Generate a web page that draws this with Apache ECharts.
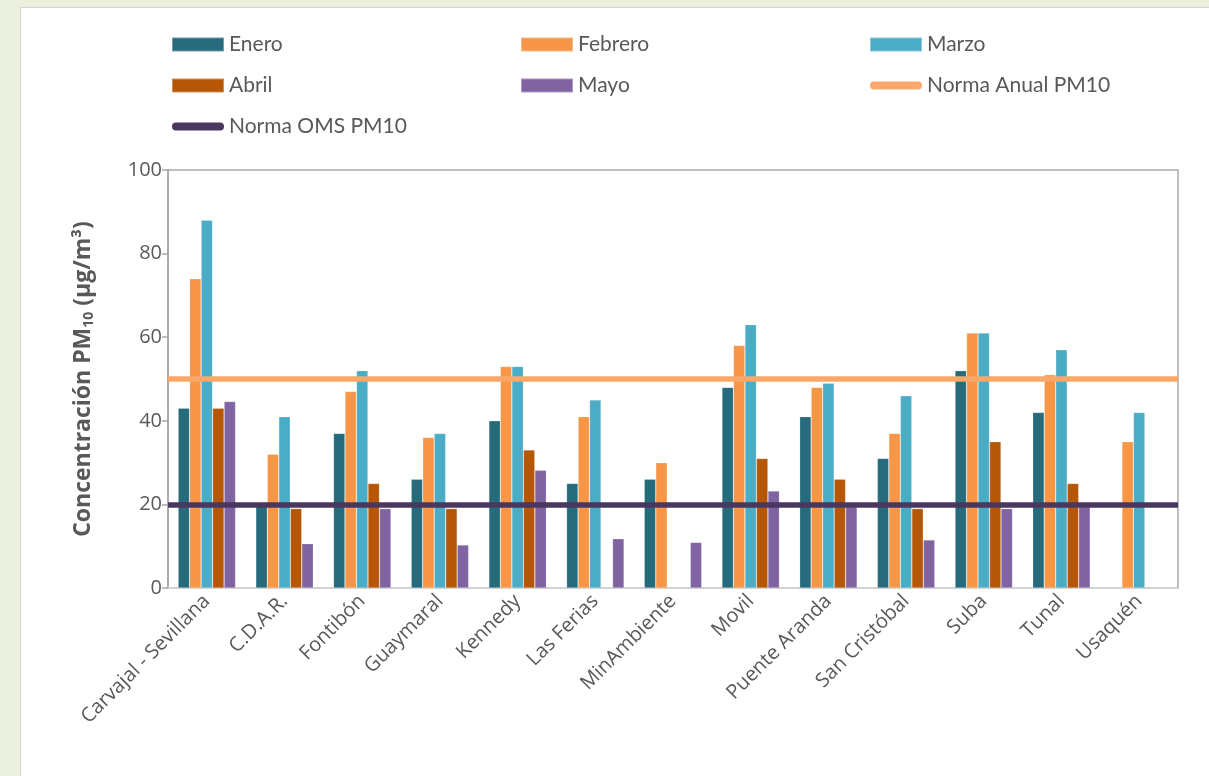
<!DOCTYPE html>
<html>
<head>
<meta charset="utf-8">
<script src="https://cdn.jsdelivr.net/npm/echarts@6/dist/echarts.min.js"></script>
<style>
  html, body { margin:0; padding:0; width:1209px; height:776px; overflow:hidden; background:#EBF1DE; }
  #panel { position:absolute; left:20px; top:7px; width:1189px; height:769px; background:#fff; border-left:1.5px solid #D4D4D4; border-top:1.5px solid #D4D4D4; }
  #chart { position:absolute; left:0; top:0; width:1209px; height:776px; }
</style>
</head>
<body>
<div id="panel"></div>
<div id="chart"></div>
<script>
const categories = ['Carvajal - Sevillana','C.D.A.R.','Fontibón','Guaymaral','Kennedy','Las Ferias','MinAmbiente','Movil','Puente Aranda','San Cristóbal','Suba','Tunal','Usaquén'];
const enero   = [43, 20, 37, 26, 40, 25, 26, 48, 41, 31, 52, 42, null];
const febrero = [74, 32, 47, 36, 53, 41, 30, 58, 48, 37, 61, 51, 35];
const marzo   = [88, 41, 52, 37, 53, 45, null, 63, 49, 46, 61, 57, 42];
const abril   = [43, 19, 25, 19, 33, null, null, 31, 26, 19, 35, 25, null];
const mayo    = [44.6, 10.6, 19, 10.3, 28.2, 11.8, 10.9, 23.2, 19.5, 11.5, 19, 19.5, null];
const normaAnual = 50;
const normaOMS = 20;
const yTicks = [0, 20, 40, 60, 80, 100];

const FONT = 'Open Sans';
const LFONT = 'Lato';
const TXT = '#595959';
const chart = echarts.init(document.getElementById('chart'), null, {renderer:'canvas'});

function bar(name, data, color) {
  return { name, type:'bar', data, barGap:'0%', barCategoryGap:'26%',
    itemStyle:{ color, borderColor:'rgba(255,255,255,0.35)', borderWidth:0.6 }, z:2 };
}
function normLine(name, value, color) {
  return { name, type:'line', data:[], symbol:'none',
    lineStyle:{ color, width:6, cap:'round' }, itemStyle:{ color },
    markLine:{ silent:true, symbol:['none','none'], label:{ show:false },
      lineStyle:{ color, width:5.5, type:'solid' }, emphasis:{ disabled:true },
      data:[{ yAxis:value }] }, z:5 };
}
const lineIcon = 'path://M4,0 H48 A4,4 0 0 1 48,8 H4 A4,4 0 0 1 4,0 Z';
const legendBase = { orient:'vertical', itemWidth:52, itemHeight:14, itemGap:20,
  textStyle:{ fontFamily:LFONT, fontSize:21, color:TXT, lineHeight:20 }, selectedMode:false };

chart.setOption({
  animation:false,
  backgroundColor:'transparent',
  textStyle:{ fontFamily:FONT },
  legend:[
    Object.assign({}, legendBase, { left:166, top:29, data:[{name:'Enero',icon:'rect'},{name:'Abril',icon:'rect'},{name:'Norma OMS PM10',icon:lineIcon}] }),
    Object.assign({}, legendBase, { left:515, top:29, data:[{name:'Febrero',icon:'rect'},{name:'Mayo',icon:'rect'}] }),
    Object.assign({}, legendBase, { left:864, top:29, data:[{name:'Marzo',icon:'rect'},{name:'Norma Anual PM10',icon:lineIcon}] })
  ],
  grid:{ left:168, right:31, top:170, bottom:188, show:true, borderColor:'#ABABAB', borderWidth:1.5, containLabel:false },
  xAxis:{ type:'category', data:categories,
    axisLine:{ lineStyle:{ color:'#D9D9D9', width:1.5 } }, axisTick:{ show:false },
    axisLabel:{ rotate:45, fontFamily:FONT, fontSize:20, color:TXT, margin:10, interval:0 } },
  yAxis:{ type:'value', min:yTicks[0], max:yTicks[yTicks.length-1], interval:20,
    name:'Concentración PM{s|10} (µg/m³)', nameLocation:'middle', nameGap:72,
    nameTextStyle:{ fontFamily:FONT, fontSize:23, fontWeight:'bold', color:TXT,
      rich:{ s:{ fontFamily:FONT, fontSize:14, fontWeight:'bold', color:TXT, verticalAlign:'bottom', padding:[11,0,0,0] } } },
    axisLine:{ show:true, lineStyle:{ color:'#A6A6A6', width:1.5 } },
    axisTick:{ show:true, length:6, lineStyle:{ color:'#A6A6A6', width:1.5 } },
    splitLine:{ show:false },
    axisLabel:{ fontFamily:FONT, fontSize:20, color:TXT, margin:6,
      formatter: v => yTicks.includes(v) ? String(v) : '' } },
  series:[
    bar('Enero', enero, '#256B7C'),
    bar('Febrero', febrero, '#F79646'),
    bar('Marzo', marzo, '#4BACC6'),
    bar('Abril', abril, '#B65708'),
    bar('Mayo', mayo, '#8064A2'),
    normLine('Norma Anual PM10', normaAnual, '#F9A86A'),
    normLine('Norma OMS PM10', normaOMS, '#4A3760')
  ]
});
</script>
</body>
</html>
